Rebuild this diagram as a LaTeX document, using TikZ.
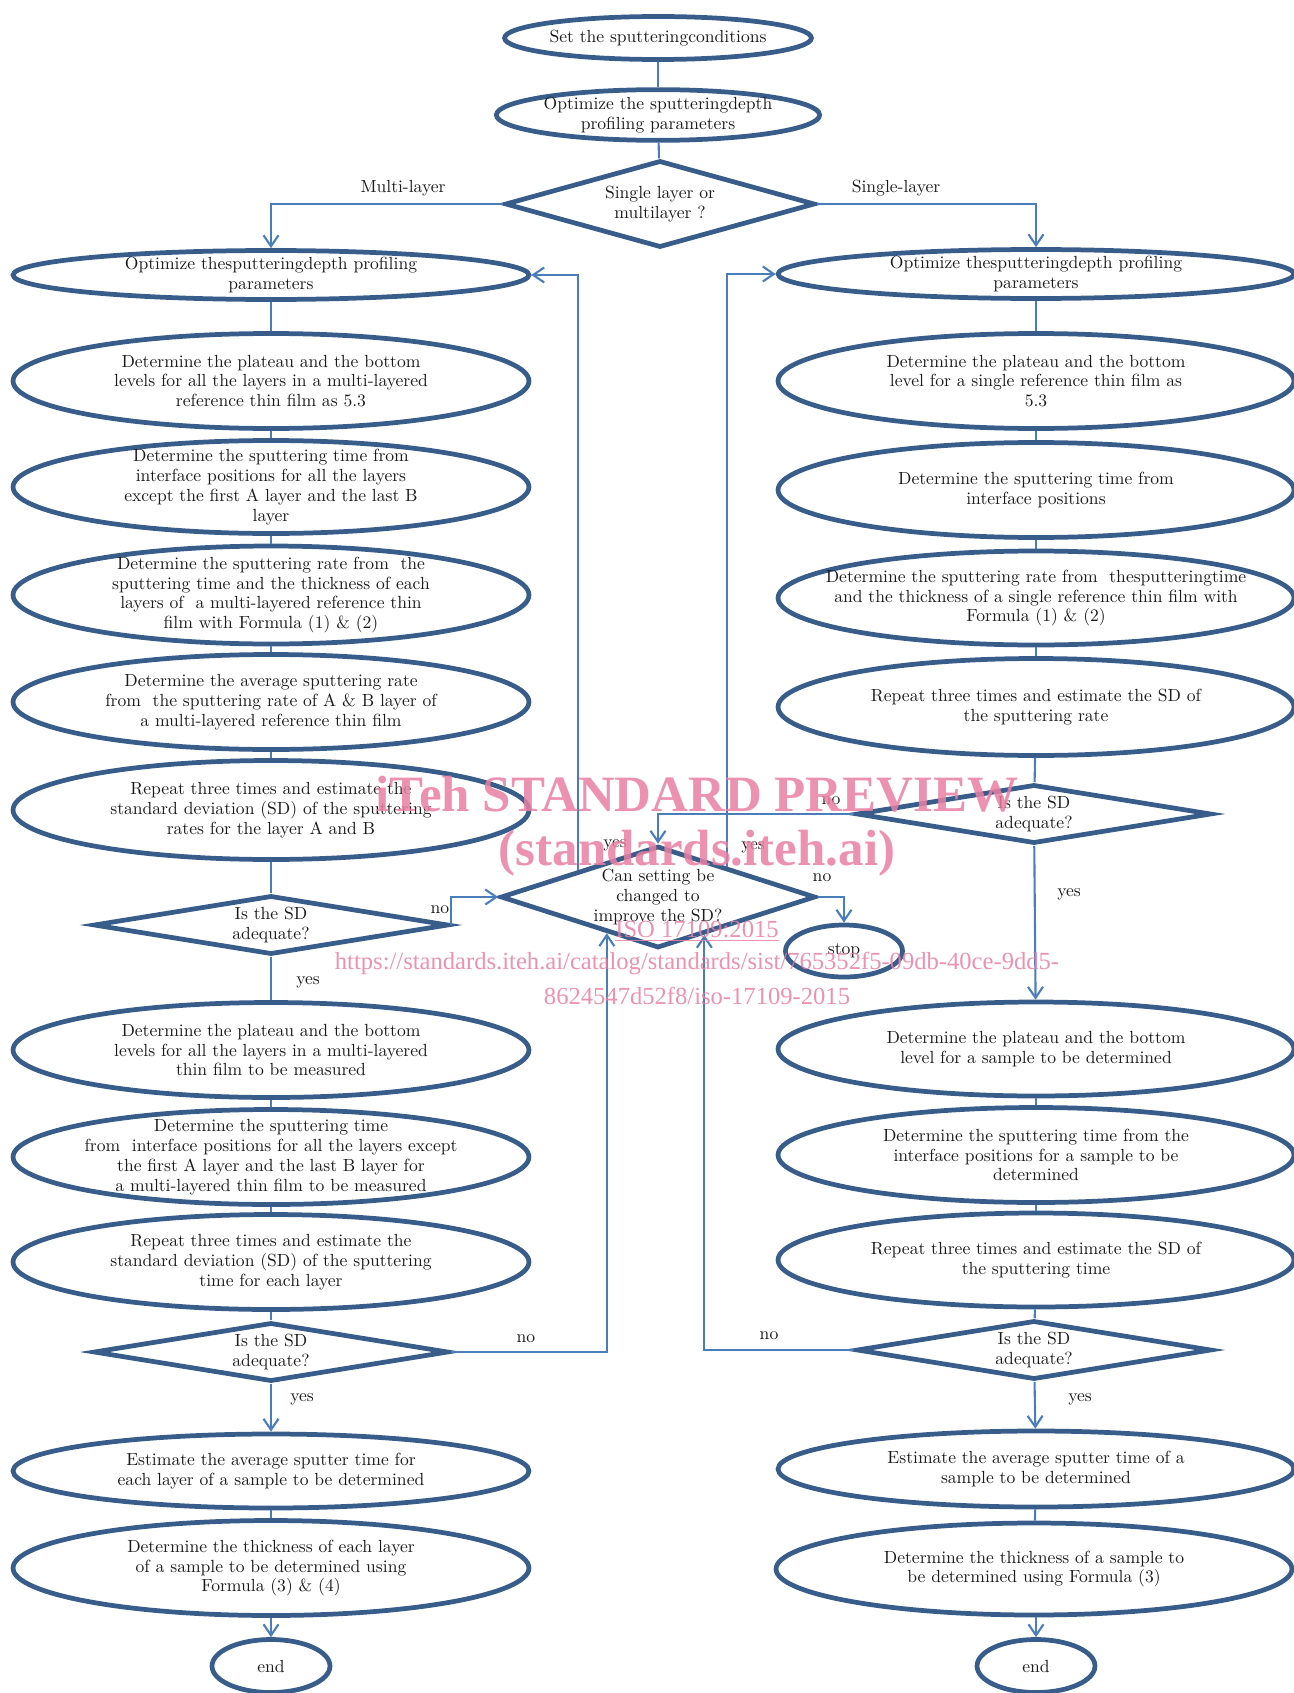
\documentclass[tikz,border=0pt]{standalone}
\usepackage{fontspec}
\newfontfamily\wmfont{Liberation Serif}
\usepackage{tikz}
\usetikzlibrary{arrows.meta,positioning,calc,shapes.geometric}
\usepackage{xcolor}
\definecolor{fedge}{HTML}{385D8A}
\definecolor{flink}{HTML}{4A7EBB}
\definecolor{fmark}{HTML}{E97FA2}
\definecolor{ftext}{HTML}{1A1A1A}
\tikzset{
  stage/.style   = {draw=fedge, line width=2.7pt, ellipse, align=center,
                    inner xsep=-30pt, inner ysep=-6pt, text=ftext,
                    minimum width=10.32cm, minimum height=1.9cm},
  termin/.style  = {draw=fedge, line width=2.7pt, ellipse, align=center,
                    inner sep=0pt, text=ftext},
  decide/.style  = {draw=fedge, line width=2.7pt, diamond, align=center,
                    inner sep=0pt, shape aspect=6, text=ftext,
                    minimum width=7.1cm, minimum height=1.18cm},
  link/.style    = {draw=flink, line width=1.2pt},
  sig/.style     = {link, -{Straight Barb[length=2.2mm,width=3mm]}},
  lbl/.style     = {text=ftext, inner sep=1pt},
  wm/.style      = {text=fmark, opacity=0.85, inner sep=0pt, font=\wmfont},
}

\begin{document}
\begin{tikzpicture}[x=0.02cm,y=-0.02cm,font=\fontsize{10}{11.3}\selectfont]
\useasboundingbox (0,0) rectangle (1294,1693);
% top part
\node[termin, minimum width=6cm, minimum height=0.86cm] (start) at (658,38) {Set the sputteringconditions};
\node[termin, minimum width=6cm, minimum height=0.92cm] (opt0) at (658,115) {Optimize the sputteringdepth\\profiling parameters};
\node[decide, shape aspect=3.5, minimum width=6.2cm, minimum height=1.74cm] (dec0) at (660,204) {Single layer or\\multilayer ?};
\node[lbl] (lbMulti) at (403,188) {Multi-layer};
\node[lbl] (lbSingle) at (896,188) {Single-layer};
% multi-layer column
\node[stage, minimum height=0.98cm] (L1) at (271,275) {Optimize thesputteringdepth profiling\\parameters};
\node[stage] (L2) at (271,381) {Determine the plateau and the bottom\\levels for all the layers in a multi-layered\\reference thin film as 5.3};
\node[stage, minimum height=1.86cm] (L3) at (271,487) {Determine the sputtering time from\\interface positions for all the layers\\except the first A layer and the last B\\layer};
\node[stage, minimum height=1.96cm] (L4) at (271,595) {Determine the sputtering rate from\ \ the\\sputtering time and the thickness of each\\layers of\ \ a multi-layered reference thin\\film with Formula (1) \& (2)};
\node[stage] (L5) at (271,702) {Determine the average sputtering rate\\from\ \ the sputtering rate of A \& B layer of\\a multi-layered reference thin film};
\node[stage, minimum height=1.98cm] (L6) at (271,810) {Repeat three times and estimate the\\standard deviation (SD) of the sputtering\\rates for the layer A and B};
\node[decide] (LD1) at (271,925) {Is the SD\\adequate?};
\node[stage] (L7) at (271,1050) {Determine the plateau and the bottom\\levels for all the layers in a multi-layered\\thin film to be measured};
\node[stage] (L8) at (271,1157) {Determine the sputtering time\\from\ \ interface positions for all the layers except\\the first A layer and the last B layer for\\a multi-layered thin film to be measured};
\node[stage] (L9) at (271,1262) {Repeat three times and estimate the\\standard deviation (SD) of the sputtering\\time for each layer};
\node[decide] (LD2) at (271,1352) {Is the SD\\adequate?};
\node[stage, minimum height=1.48cm] (L10) at (271,1471) {Estimate the average sputter time for\\each layer of a sample to be determined};
\node[stage] (L11) at (271,1568) {Determine the thickness of each layer\\of a sample to be determined using\\Formula (3) \& (4)};
\node[termin, minimum width=2.36cm, minimum height=1.06cm] (endL) at (271,1666) {end};
% single-layer column
\node[stage, minimum height=0.98cm] (R1) at (1036,274) {Optimize thesputteringdepth profiling\\parameters};
\node[stage] (R2) at (1036,381) {Determine the plateau and the bottom\\level for a single reference thin film as\\5.3};
\node[stage] (R3) at (1036,490) {Determine the sputtering time from\\interface positions};
\node[stage, minimum height=1.88cm] (R4) at (1036,598) {Determine the sputtering rate from\ \ thesputteringtime\\and the thickness of a single reference thin film with\\Formula (1) \& (2)};
\node[stage, minimum height=1.94cm] (R5) at (1036,707) {Repeat three times and estimate the SD of\\the sputtering rate};
\node[decide] (RD1) at (1034,814) {Is the SD\\adequate?};
\node[stage, minimum height=1.88cm] (R6) at (1036,1049) {Determine the plateau and the bottom\\level for a sample to be determined};
\node[stage] (R7) at (1036,1155) {Determine the sputtering time from the\\interface positions for a sample to be\\determined};
\node[stage, minimum height=1.88cm] (R8) at (1036,1260) {Repeat three times and estimate the SD of\\the sputtering time};
\node[decide] (RD2) at (1034,1350) {Is the SD\\adequate?};
\node[stage, minimum height=1.52cm] (R9) at (1036,1469) {Estimate the average sputter time of a\\sample to be determined};
\node[stage, minimum height=1.84cm] (R10) at (1034,1569) {Determine the thickness of a sample to\\be determined using Formula (3)};
\node[termin, minimum width=2.36cm, minimum height=1.06cm] (endR) at (1036,1666) {end};
% middle decision
\node[decide, shape aspect=3.2, minimum width=6.3cm, minimum height=2.04cm] (CD) at (658,897) {Can setting be\\changed to\\improve the SD?};
\node[termin, minimum width=2.34cm, minimum height=1.04cm] (stop) at (844,951) {stop};
% straight connectors
\draw[link] (start) -- (opt0);
\draw[link] (opt0) -- (dec0);
\draw[sig] (dec0.west) -| (L1.north);
\draw[sig] (dec0.east) -| (R1.north);
\foreach \a/\b in {L1/L2,L2/L3,L3/L4,L4/L5,L5/L6,L6/LD1,LD1/L7,L7/L8,L8/L9,L9/LD2,L10/L11,
                   R1/R2,R2/R3,R3/R4,R4/R5,R5/RD1,R6/R7,R7/R8,R8/RD2,R9/R10}
  \draw[link] (\a) -- (\b);
\draw[sig] (LD2) -- (L10);
\draw[sig] (L11) -- (endL);
\draw[sig] (RD1) -- (R6);
\draw[sig] (RD2) -- (R9);
\draw[sig] (R10.south -| endR) -- (endR);
% loops through the middle decision
\coordinate (cdNW) at ($(CD.west)!0.5!(CD.north)$);
\coordinate (cdNE) at ($(CD.north)!0.43!(CD.east)$);
\coordinate (cdSW) at ($(CD.west)!0.68!(CD.south)$);
\coordinate (cdSE) at ($(CD.south)!0.29!(CD.east)$);
\draw[sig] (LD1.east) |- (CD.west);
\draw[sig] (CD.east) -| (stop.north);
\draw[sig] (RD1.west) -| (CD.north);
\draw[sig] (cdNW) |- (L1.east);
\draw[sig] (cdNE) |- (R1.west);
\draw[sig] (LD2.east) -| (cdSW);
\draw[sig] (RD2.west) -| (cdSE);
% branch labels
\node[lbl] (lbNoA) at (440,910) {no};
\node[lbl] (lbYesA) at (308,982) {yes};
\node[lbl] (lbNoB) at (526,1339) {no};
\node[lbl] (lbYesB) at (302,1399) {yes};
\node[lbl] (lbNoC) at (831,801) {no};
\node[lbl] (lbYesC) at (1069,894) {yes};
\node[lbl] (lbNoD) at (769,1336) {no};
\node[lbl] (lbYesD) at (1080,1399) {yes};
\node[lbl] (lbYesE) at (615,845) {yes};
\node[lbl] (lbYesF) at (753,847) {yes};
\node[lbl] (lbNoE) at (822,878) {no};
% watermark
\node[wm, font=\wmfont\bfseries\fontsize{29}{30}\selectfont] (wm1) at (697,794) {iTeh STANDARD PREVIEW};
\node[wm, font=\wmfont\bfseries\fontsize{29}{30}\selectfont] (wm2) at (697,853) {(standards.iteh.ai)};
\node[wm, font=\wmfont\fontsize{14}{15}\selectfont] (wm3) at (697,931) {\underline{ISO 17109:2015}};
\node[wm, font=\wmfont\fontsize{14}{15}\selectfont] (wm4) at (697,963) {https://standards.iteh.ai/catalog/standards/sist/765352f5-09db-40ce-9dd5-};
\node[wm, font=\wmfont\fontsize{14}{15}\selectfont] (wm5) at (697,996) {8624547d52f8/iso-17109-2015};
\end{tikzpicture}
\end{document}
